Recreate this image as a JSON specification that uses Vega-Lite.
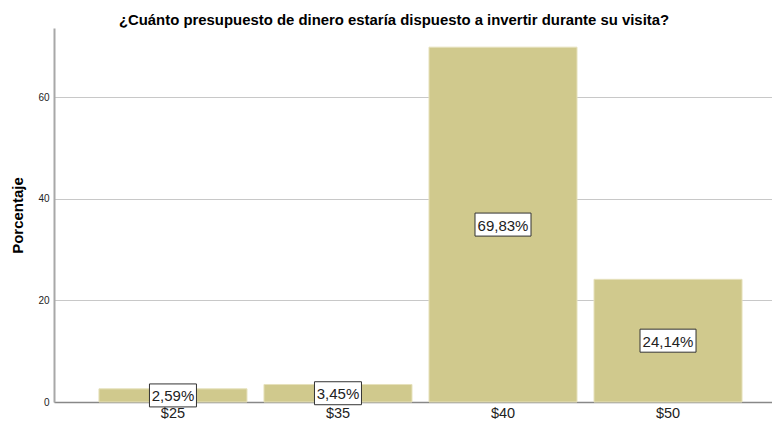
{
  "$schema": "https://vega.github.io/schema/vega-lite/v6.json",
  "width": 718,
  "height": 374,
  "autosize": {"type": "none"},
  "padding": {"left": 54, "top": 28, "right": 0, "bottom": 21},
  "background": "white",
  "config": {
    "view": {"stroke": null},
    "font": "Liberation Sans"
  },
  "title": {
    "text": "¿Cuánto presupuesto de dinero estaría dispuesto a invertir durante su visita?",
    "font": "Liberation Sans",
    "fontSize": 14.9,
    "fontWeight": "bold",
    "color": "#000000",
    "anchor": "middle",
    "baseline": "alphabetic",
    "offset": -12,
    "dx": -19
  },
  "data": {
    "values": [
      {"cat": "$25", "value": 2.59, "label": "2,59%"},
      {"cat": "$35", "value": 3.45, "label": "3,45%"},
      {"cat": "$40", "value": 69.83, "label": "69,83%"},
      {"cat": "$50", "value": 24.14, "label": "24,14%"}
    ]
  },
  "encoding": {
    "x": {
      "field": "cat",
      "type": "nominal",
      "sort": null,
      "scale": {"paddingInner": 0.103, "paddingOuter": 0.227, "align": 0.6},
      "axis": {
        "title": null,
        "labelAngle": 0,
        "labelFontSize": 14.5,
        "labelFont": "Liberation Sans",
        "labelColor": "#222222",
        "labelPadding": 4,
        "ticks": false,
        "domainColor": "#888888",
        "domainWidth": 1.5
      }
    }
  },
  "layer": [
    {
      "mark": {"type": "bar", "color": "#D0C98D", "stroke": "#E6E1BC", "strokeWidth": 1},
      "encoding": {
        "y": {
          "field": "value",
          "type": "quantitative",
          "scale": {"domain": [0, 73.6], "nice": false},
          "axis": {
            "values": [0, 20, 40, 60],
            "ticks": false,
            "labelPadding": 5,
            "labelFontSize": 10,
            "labelFont": "Liberation Sans",
            "labelColor": "#222222",
            "grid": true,
            "gridColor": "#C8C8C8",
            "gridWidth": 1,
            "domainColor": "#A8A8A8",
            "domainWidth": 2,
            "title": "Porcentaje",
            "titleFont": "Liberation Sans",
            "titleFontSize": 15,
            "titleFontWeight": "bold",
            "titleColor": "#000000",
            "titleX": -37,
            "titleY": 187,
            "titleBaseline": "middle",
            "titleAngle": -90
          }
        }
      }
    },
    {
      "transform": [{"calculate": "datum.value / 2", "as": "mid"}],
      "mark": {
        "type": "point",
        "filled": true,
        "fill": "white",
        "opacity": 1,
        "stroke": "#333333",
        "strokeWidth": 1
      },
      "encoding": {
        "y": {"field": "mid", "type": "quantitative", "scale": {"domain": [0, 73.6], "nice": false}},
        "shape": {
          "condition": {"test": "datum.value < 10", "value": "M-1,-0.489H1V0.489H-1Z"},
          "value": "M-1,-0.411H1V0.411H-1Z"
        },
        "size": {
          "condition": {"test": "datum.value < 10", "value": 2209},
          "value": 3136
        }
      }
    },
    {
      "transform": [{"calculate": "datum.value / 2", "as": "mid"}],
      "mark": {
        "type": "text",
        "font": "Liberation Sans",
        "fontSize": 15,
        "color": "#222222",
        "align": "center",
        "baseline": "middle",
        "dy": 1
      },
      "encoding": {
        "y": {"field": "mid", "type": "quantitative", "scale": {"domain": [0, 73.6], "nice": false}},
        "text": {"field": "label"}
      }
    }
  ]
}
